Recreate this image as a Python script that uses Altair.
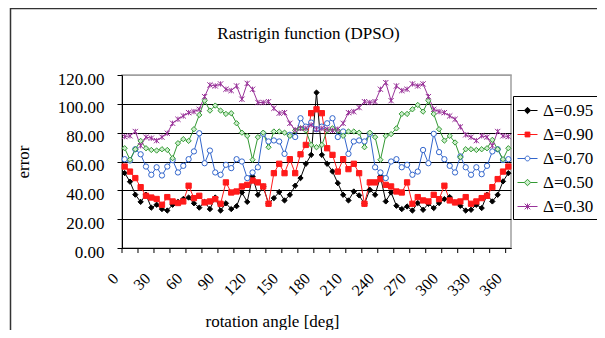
import altair as alt
import pandas as pd

angles = [0, 5, 10, 15, 20, 25, 30, 35, 40, 45, 50, 55, 60, 65, 70, 75, 80, 85, 90,
          95, 100, 105, 110, 115, 120, 125, 130, 135, 140, 145, 150, 155, 160, 165, 170, 175, 180,
          185, 190, 195, 200, 205, 210, 215, 220, 225, 230, 235, 240, 245, 250, 255, 260, 265, 270,
          275, 280, 285, 290, 295, 300, 305, 310, 315, 320, 325, 330, 335, 340, 345, 350, 355, 360]

d095 = [52, 46, 37, 32, 37, 28, 30, 27, 26, 30, 32, 34, 35, 31, 28, 32, 27, 35, 26,
        31, 27, 29, 38.5, 32, 49.6, 36.9, 42.7, 30.7, 34.6, 38.8, 33, 36.9, 43.2, 48.5, 58.4, 64.6, 107.8,
        64.6, 58.4, 53.1, 45, 36.9, 33, 39.2, 36.5, 30.7, 40.4, 36.9, 49.6, 32.3, 38.5, 29.3, 27, 28.8, 26,
        31.2, 26.5, 30.7, 27.7, 31.2, 33.9, 35.3, 31.6, 29.3, 26, 26.5, 30, 27.7, 36.9, 32.3, 36.9, 46.2, 51.9]

d090 = [56.5, 53, 48.5, 42.2, 36.2, 35, 34, 30, 35.3, 32.3, 31.2, 32.3, 43.2, 34.6, 36.2, 31.6, 32.3, 33.9, 30.7,
        45.5, 38.5, 39.2, 42.7, 43.8, 46.8, 45.5, 42.7, 30.7, 51.9, 58.4, 51.9, 61.6, 51.9, 65, 71.5, 93.5, 96.2,
        93.5, 69.2, 64.6, 53, 61.6, 54.7, 58.4, 51.9, 30.7, 45.5, 45.5, 47.8, 43.8, 42.7, 39.2, 38.5, 45.5, 30.7,
        35.3, 33, 32.3, 36.9, 33.9, 43.2, 33, 31.6, 32.3, 35.3, 30.7, 32.3, 34.6, 36.2, 42.2, 47.8, 53, 56.5]

d070 = [61.6, 60.7, 68.5, 65, 56.5, 50.8, 56, 50.3, 56.5, 61, 52.4, 57, 61.6, 67, 79.6, 58.8, 67.6, 52.4, 50.8,
        57.7, 55.4, 61.6, 60, 48.5, 52.4, 56, 79.2, 73.9, 74.6, 73.9, 65.3, 78.5, 77, 90, 84.2, 87, 82.4,
        84.2, 86.5, 90, 77, 80.8, 65.3, 73.9, 74.6, 73.9, 79.2, 56, 52.4, 48.5, 60, 61.6, 56, 57.7, 50.8,
        53, 68, 58.8, 79.2, 66.5, 61.6, 57, 52.4, 63.5, 56, 50.8, 56, 51.2, 57, 67, 68.5, 61, 61.6]

d050 = [69.2, 61.2, 68.5, 74.3, 69.2, 68, 67.6, 68.5, 68, 62.3, 72.7, 75.5, 74.3, 82.4, 92.3, 102.2, 95.3, 98.8, 95.3,
        93, 93.5, 86.5, 80, 77.8, 61.2, 76.9, 80, 69.9, 80.8, 80.8, 80, 77.8, 81.5, 83, 81.5, 71.5, 69.9,
        71.5, 81.5, 83, 81.5, 77.8, 80.8, 80.8, 80, 69.9, 80, 76.9, 61.2, 77.8, 79, 83, 93, 93, 96.2,
        99.2, 94.6, 102.2, 93, 82.4, 74.5, 77.8, 73.2, 63, 68.5, 68.5, 68, 68.5, 69.2, 75, 68.5, 61.6, 69.2]

d030 = [77.3, 77.8, 80.8, 70.9, 76.9, 76.2, 74.5, 76.9, 79.6, 86.5, 89.3, 91.6, 93.9, 94.6, 96.2, 105, 113.1, 112.4, 113.8,
        110.1, 109.2, 112.4, 103.2, 114.2, 110.1, 100.9, 100.9, 101.5, 96.9, 93.5, 93.9, 86.5, 81.9, 83, 83, 85.4, 82.4,
        83, 82.4, 81.5, 82.4, 86.5, 93.9, 94.6, 97.4, 101.5, 100.9, 101.5, 110.1, 114.7, 102.2, 112.4, 109.2, 110.1, 113.8,
        112.4, 113.8, 105, 96.2, 94.6, 93.9, 91.6, 89.3, 84, 78.5, 76.9, 74.5, 77.8, 76.9, 70.9, 80.8, 77.8, 77.3]

series_names = ["Δ=0.95", "Δ=0.90", "Δ=0.70", "Δ=0.50", "Δ=0.30"]
series_values = [d095, d090, d070, d050, d030]
line_colors = ["#000000", "#FF1A1A", "#3366CC", "#339933", "#993399"]
fill_colors = ["#000000", "#FF1A1A", "#FFFFFF", "#CCEECC", "transparent"]

y_ticks = [0, 20, 40, 60, 80, 100, 120]
x_labels = [0, 30, 60, 90, 120, 150, 180, 210, 240, 270, 300, 330, 360]
x_tick_marks = [-2.5, 12.5, 27.5, 42.5, 57.5, 72.5, 87.5, 102.5, 117.5, 132.5, 147.5, 162.5, 177.5,
                192.5, 207.5, 222.5, 237.5, 252.5, 267.5, 282.5, 297.5, 312.5, 327.5, 342.5, 357.5]

star = "M-1,-1L1,1M-1,1L1,-1M0,-1L0,1"
plot_shapes = ["diamond", "square", "circle", "diamond", star]
legend_shapes = [
    "M-1,0L-0.3,0M0.3,0L1,0M0,-0.32L0.32,0L0,0.32L-0.32,0Z",
    "M-1,0L-0.24,0M0.24,0L1,0M-0.24,-0.24L0.24,-0.24L0.24,0.24L-0.24,0.24Z",
    "M-1,0L-0.24,0M0.24,0L1,0M0.24,0A0.24,0.24 0 1,1 -0.24,0A0.24,0.24 0 1,1 0.24,0Z",
    "M-1,0L-0.3,0M0.3,0L1,0M0,-0.32L0.32,0L0,0.32L-0.32,0Z",
    "M-1,0L1,0M-0.28,-0.28L0.28,0.28M-0.28,0.28L0.28,-0.28M0,-0.3L0,0.3",
]

rows = []
for name, vals in zip(series_names, series_values):
    for a, v in zip(angles, vals):
        rows.append({"angle": a, "error": v, "series": name})
df = pd.DataFrame(rows)
ticks_df = pd.DataFrame({"t": x_tick_marks})

FONT = "Liberation Serif"
xscale = alt.Scale(domain=[-2.5, 362.5], nice=False, zero=False)
yscale = alt.Scale(domain=[0, 120], nice=False)

base = alt.Chart(df)

lines = base.mark_line(strokeWidth=1).encode(
    x=alt.X("angle:Q", scale=xscale,
            axis=alt.Axis(values=x_labels, tickCount=40, labelAngle=-45, labelAlign="right", labelBaseline="top",
                          labelOverlap=False, ticks=False, grid=False, domainColor="black", labelFontSize=16,
                          labelPadding=22, labelOffset=-15, title="rotation angle [deg]",
                          titleFontSize=17, titleX=150, titleY=78, titleBaseline="alphabetic",
                          titleAnchor="middle")),
    y=alt.Y("error:Q", scale=yscale,
            axis=alt.Axis(values=y_ticks, tickCount=20, format=".2f", grid=True, labelOverlap=False,
                          gridColor=alt.condition("datum.value == 120", alt.value("#a0a0a0"), alt.value("#000000")),
                          gridWidth=1, tickSize=5, tickColor="black", domainColor="black",
                          labelFontSize=17, labelPadding=13, labelOffset=4, title="error",
                          titleFontSize=17, titleAngle=-90, titleX=-94, titleY=86.5,
                          titleBaseline="alphabetic", titleAlign="center")),
    stroke=alt.Stroke("series:N", scale=alt.Scale(domain=series_names, range=line_colors), legend=None),
    order=alt.Order("angle:Q"),
)

points = base.mark_point(filled=False, size=28, strokeWidth=1, opacity=1).encode(
    x=alt.X("angle:Q", scale=xscale),
    y=alt.Y("error:Q", scale=yscale),
    shape=alt.Shape("series:N", scale=alt.Scale(domain=series_names, range=plot_shapes), legend=None),
    fill=alt.Fill("series:N", scale=alt.Scale(domain=series_names, range=fill_colors), legend=None),
    stroke=alt.Stroke("series:N", scale=alt.Scale(domain=series_names, range=line_colors), legend=None),
)

leg = alt.Legend(title=None, orient="none", legendX=391, legendY=21, symbolSize=400,
                 symbolStrokeWidth=1, labelFont=FONT, labelFontSize=17, labelColor="black",
                 labelOffset=5, padding=4, rowPadding=5, strokeColor="black", fillColor="white",
                 symbolOpacity=1)

legend_layer = base.mark_point(filled=False, size=400, opacity=0).encode(
    x=alt.X("angle:Q", scale=xscale),
    y=alt.Y("error:Q", scale=yscale),
    shape=alt.Shape("series:N", scale=alt.Scale(domain=series_names, range=legend_shapes), legend=leg),
    fill=alt.Fill("series:N", scale=alt.Scale(domain=series_names, range=fill_colors), legend=leg),
    stroke=alt.Stroke("series:N", scale=alt.Scale(domain=series_names, range=line_colors), legend=leg),
)

tick_marks = alt.Chart(ticks_df).mark_rule(color="black", strokeWidth=1).encode(
    x=alt.X("t:Q", scale=xscale), y=alt.value(173), y2=alt.value(178))

frame = alt.Chart(pd.DataFrame({"k": [0]})).mark_rule(color="#333333", strokeWidth=1.5).encode(
    x=alt.value(-111.5), y=alt.value(-67), y2=alt.value(255))
frame_top = alt.Chart(pd.DataFrame({"k": [0]})).mark_rule(color="#333333", strokeWidth=1.5).encode(
    x=alt.value(-111.5), x2=alt.value(475), y=alt.value(-66.5))

chart = alt.layer(frame, frame_top, lines, points, legend_layer, tick_marks).resolve_scale(
    shape="independent", fill="independent", stroke="independent"
).properties(
    width=389, height=173,
    background="white",
    autosize=alt.AutoSizeParams(type="none"),
    padding={"left": 114, "top": 67, "right": 86, "bottom": 82},
    title=alt.TitleParams("Rastrigin function (DPSO)", font=FONT, fontSize=17, fontWeight="normal",
                          anchor="middle", frame="group", offset=-34, dx=-8, dy=15, color="black",
                          baseline="alphabetic"),
).configure_axis(
    labelFont=FONT, titleFont=FONT, labelColor="black", titleColor="black", titleFontWeight="normal"
).configure_view(stroke="#a0a0a0", strokeWidth=1.5)

chart.save("out.html", embed_options={"renderer": "svg", "actions": False})
